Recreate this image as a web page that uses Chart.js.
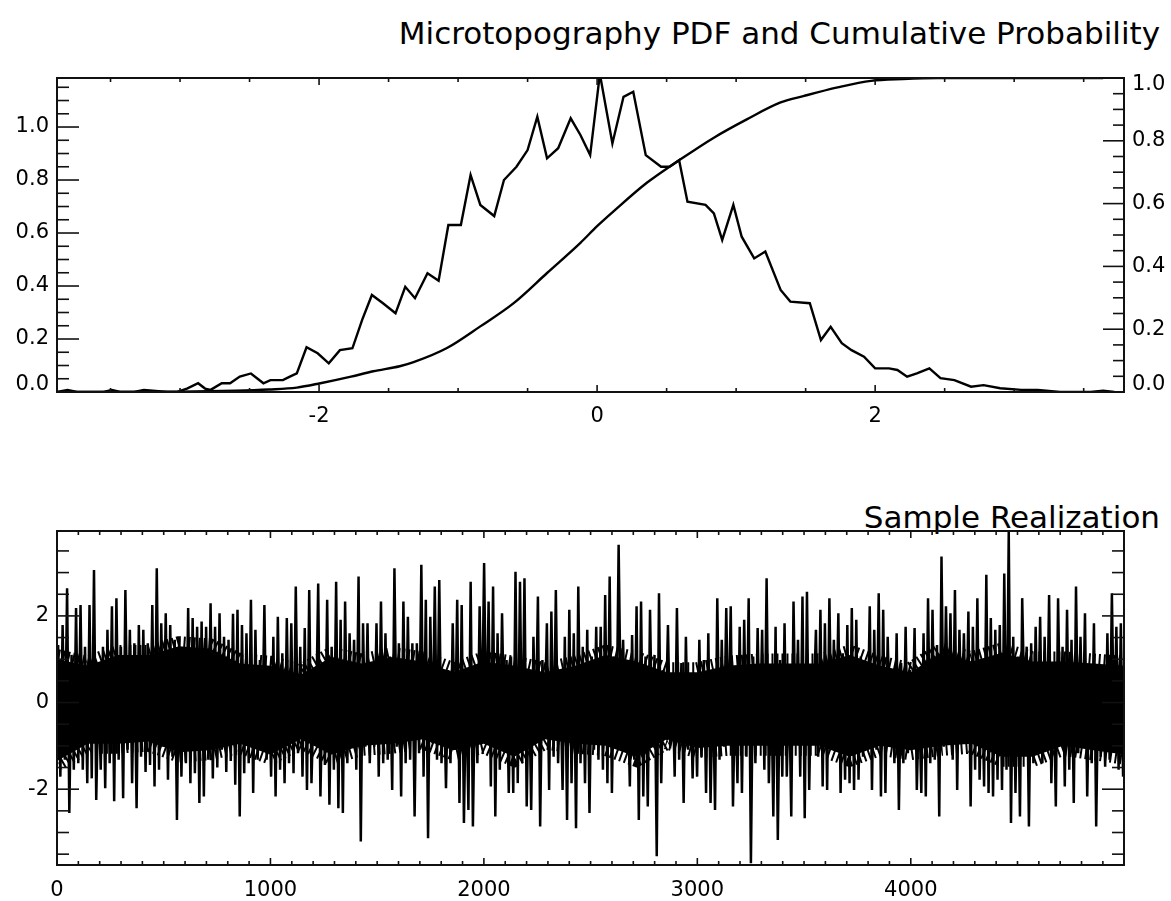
<!DOCTYPE html>
<html>
<head>
<meta charset="utf-8">
<title>Microtopography PDF and Cumulative Probability</title>
<script src="https://cdn.jsdelivr.net/npm/chart.js@4.4.1/dist/chart.umd.min.js"></script>
<style>
	body { margin: 0; background: #fff; }
	#wrap { position: relative; width: 1171px; height: 901px; overflow: hidden; background: #fff; }
	.plotTitle { position: absolute; right: 11px; font-family: "DejaVu Sans", sans-serif; font-size: 31px; line-height: 1; color: #000; white-space: nowrap; }
	canvas { position: absolute; left: 0; }
</style>
</head>
<body>
<div id="wrap">
	<div class="plotTitle" style="top: 18px;">Microtopography PDF and Cumulative Probability</div>
	<canvas id="pdfChart" width="1171" height="460" style="top: 0px;"></canvas>
	<div class="plotTitle" style="top: 502px;">Sample Realization</div>
	<canvas id="sampleChart" width="1171" height="431" style="top: 470px;"></canvas>
</div>
<script>
//PDF (left axis)
var pdfX = [-3.885, -3.81, -3.74, -3.55, -3.49, -3.43, -3.33, -3.26, -3.09, -3.02, -2.95, -2.87, -2.82, -2.78, -2.70, -2.64, -2.57, -2.49, -2.40, -2.35,
			-2.26, -2.21, -2.16, -2.09, -2.01, -1.93, -1.85, -1.76, -1.69, -1.62, -1.54, -1.45, -1.38, -1.31, -1.22, -1.14, -1.07, -0.98, -0.91, -0.84,
			-0.74, -0.67, -0.58, -0.50, -0.43, -0.36, -0.28, -0.19, -0.12, -0.05, 0.02, 0.11, 0.19, 0.26, 0.35, 0.46, 0.52, 0.59, 0.65, 0.78,
			0.84, 0.90, 0.98, 1.04, 1.13, 1.21, 1.32, 1.39, 1.53, 1.61, 1.68, 1.76, 1.83, 1.92, 2.00, 2.10, 2.16, 2.23, 2.30, 2.39,
			2.47, 2.57, 2.69, 2.78, 2.90, 3.05, 3.17, 3.33, 3.41, 3.55, 3.64, 3.72];
var pdfY = [0, 0.008, 0, 0, 0.008, 0, 0, 0.008, 0, 0, 0.013, 0.033, 0.013, 0.008, 0.033, 0.033, 0.058, 0.07, 0.033, 0.045,
			0.045, 0.058, 0.07, 0.169, 0.146, 0.108, 0.158, 0.165, 0.272, 0.366, 0.335, 0.297, 0.397, 0.354, 0.448, 0.42, 0.63, 0.63, 0.819, 0.706,
			0.664, 0.80, 0.85, 0.913, 1.039, 0.882, 0.92, 1.033, 0.97, 0.894, 1.20, 0.938, 1.114, 1.133, 0.894, 0.85, 0.85, 0.875, 0.718, 0.706,
			0.674, 0.574, 0.706, 0.586, 0.504, 0.53, 0.385, 0.341, 0.335, 0.196, 0.246, 0.184, 0.158, 0.133, 0.089, 0.089, 0.083, 0.058, 0.07, 0.089,
			0.052, 0.045, 0.02, 0.026, 0.014, 0.008, 0.008, 0, 0, 0, 0.005, 0];

//cumulative probability (right axis)
var cdfX = [-3.885, -3.0, -2.6, -2.36, -2.16, -1.99, -1.77, -1.61, -1.42, -1.32, -1.08, -0.84, -0.60, -0.36, -0.12, 0, 0.12, 0.36, 0.60, 0.84,
			1.08, 1.32, 1.49, 1.73, 1.97, 2.20, 2.45, 3.0, 3.64];
var cdfY = [0, 0.001, 0.004, 0.008, 0.014, 0.028, 0.049, 0.066, 0.082, 0.095, 0.14, 0.209, 0.283, 0.379, 0.475, 0.528, 0.576, 0.667, 0.741, 0.81,
			0.869, 0.922, 0.943, 0.970, 0.991, 0.997, 1.0, 1.0, 1.0];

//sample realization : highest / lowest value of each narrow column, left to right
var sampleHi = [
	1.33, 1.79, 2.64, 1.10, 2.18, 2.25, 1.29, 2.25, 3.06, 0.37, 1.29, 1.68, 2.22, 2.41, 1.29, 2.60, 1.68, 1.37, 1.79, 1.68,
	1.37, 2.25, 3.10, 1.83, 2.06, 1.79, 1.45, 1.48, 1.22, 2.18, 1.95, 1.75, 1.87, 1.75, 2.29, 1.75, 2.06, 1.52, 1.45, 2.05,
	2.14, 1.79, 1.60, 2.37, 1.68, 0.98, 2.25, 0.52, 1.52, 1.98, 1.14, 1.95, 1.83, 2.68, 1.29, 1.72, 2.60, 0.14, 2.75, 0.60,
	2.37, 1.29, 2.79, 1.91, 2.33, 1.60, 1.45, 2.91, 1.83, 1.83, 0.75, 1.83, 2.33, 1.60, 1.06, 3.10, 1.37, 2.33, 1.98, 1.37,
	1.37, 3.18, 2.37, 1.98, 2.68, 2.83, 0.52, 0.75, 1.83, 2.37, 2.25, 0.56, 2.79, 0.60, 2.22, 3.22, 2.33, 2.68, 1.60, 2.06,
	0.98, 1.06, 3.02, 2.79, 2.87, 0.75, 1.52, 2.45, 0.98, 1.83, 2.10, 2.60, 0.60, 1.52, 2.14, 1.60, 2.68, 1.29, 1.68, 1.06,
	1.75, 1.75, 2.48, 2.91, 1.06, 3.64, 1.45, 0.60, 1.56, 2.22, 2.33, 1.06, 2.14, 1.10, 2.52, 0.75, 1.79, 0.52, 2.18, 0.91,
	1.52, 0.60, 0.45, 1.45, 0.98, 1.60, 0.52, 2.41, 1.45, 2.18, 2.22, 0.41, 1.75, 1.91, 2.41, 1.06, 1.72, 1.68, 2.87, 0.68,
	1.75, 0.98, 1.83, 0.52, 2.33, 1.45, 2.45, 2.56, 0.83, 1.68, 2.14, 1.83, 2.41, 1.45, 2.06, 1.14, 1.79, 2.18, 1.91, 1.06,
	0.37, 2.22, 1.68, 2.52, 2.14, 1.52, 0.75, 1.60, 0.91, 1.75, 0.75, 1.72, 0.14, 1.60, 2.41, 2.14, 1.33, 3.37, 2.22, 2.06,
	2.60, 1.68, 1.60, 2.10, 1.75, 2.41, 0.83, 2.95, 1.95, 1.68, 1.79, 2.98, 3.95, 1.52, 1.06, 2.41, 1.29, 1.37, 1.75, 1.98,
	1.52, 2.48, 0.52, 2.41, 1.29, 2.14, 1.45, 2.68, 1.52, 2.06, 0.83, 1.83, 0.75, 0.68, 1.60, 2.52, 1.75, 1.83
];
var sampleLo = [
	-1.71, -1.32, -2.55, -1.55, -1.40, -1.55, -1.86, -1.75, -2.25, -1.55, -1.98, -1.40, -2.28, -1.32, -2.21, -1.09, -1.86, -2.44, -1.25, -1.60,
	-1.44, -1.94, -1.55, -1.02, -1.78, -1.25, -2.71, -1.71, -1.40, -1.86, -1.63, -2.32, -2.17, -1.32, -1.75, -1.50, -1.09, -1.60, -1.35, -1.90,
	-2.63, -1.63, -1.40, -2.09, -1.32, -0.94, -1.32, -1.71, -2.17, -1.55, -1.86, -1.40, -1.63, -1.17, -1.71, -2.02, -1.86, -0.55, -2.17, -1.44,
	-2.36, -1.55, -2.44, -2.55, -1.40, -0.63, -1.55, -3.21, -1.02, -1.40, -1.02, -1.71, -1.40, -1.32, -2.02, -1.02, -2.17, -1.40, -1.32, -2.63,
	-1.17, -1.71, -3.13, -0.94, -1.32, -1.40, -1.98, -1.40, -1.09, -2.32, -2.78, -2.48, -2.86, -1.40, -0.63, -0.94, -1.94, -2.63, -1.55, -0.75,
	-2.09, -2.09, -1.86, -1.40, -2.40, -2.48, -0.86, -2.86, -0.55, -2.02, -1.25, -1.40, -2.02, -2.71, -1.86, -2.90, -1.40, -1.86, -2.55, -1.09,
	-1.32, -1.55, -1.86, -2.09, -1.02, -0.40, -0.94, -1.94, -1.32, -2.71, -2.17, -2.40, -0.94, -3.55, -1.86, -0.55, -1.02, -1.71, -1.32, -2.32,
	-1.09, -1.75, -1.71, -1.25, -2.09, -2.32, -2.48, -1.32, -1.02, -0.78, -2.40, -1.86, -2.09, -1.25, -3.71, -1.40, -0.94, -1.55, -1.86, -2.63,
	-3.17, -1.71, -1.71, -2.63, -0.94, -1.71, -2.67, -2.02, -0.09, -1.25, -1.94, -2.02, -0.94, -0.71, -2.09, -1.78, -1.86, -2.02, -1.78, -1.25,
	-0.86, -2.02, -1.09, -2.17, -2.09, -0.63, -1.40, -2.48, -1.40, -1.17, -0.71, -2.02, -2.09, -2.17, -1.40, -1.32, -2.63, -1.02, -0.71, -1.32,
	-2.02, -0.55, -0.94, -2.40, -1.55, -1.78, -1.94, -2.09, -2.17, -1.78, -2.02, -1.55, -2.78, -2.09, -2.63, -0.17, -2.86, -1.40, -1.02, -1.40,
	-1.02, -1.86, -2.40, -0.78, -1.94, -1.55, -2.32, -1.17, -0.94, -2.17, -1.40, -2.86, -1.25, -1.48, -1.32, -0.94, -1.55, -1.71
];

//dense black band of the realization (upper / lower edge), left to right
var coreHi = [1.0, 0.85, 1.1, 1.1, 1.3, 1.25, 0.9, 0.85, 0.65, 1.05, 0.9, 1.05, 0.95, 0.7, 0.95, 0.85, 0.7, 0.85,
			1.1, 0.95, 0.7, 0.7, 0.85, 0.9, 0.9, 0.9, 1.1, 0.85, 0.7, 1.15, 0.95, 1.15, 0.95, 0.95, 0.9, 0.85];
var coreLo = [-1.35, -0.95, -0.95, -0.9, -1.15, -1.1, -0.95, -1.2, -0.85, -1.2, -1.0, -0.95, -0.85, -1.1, -0.95, -1.25, -0.85, -0.95,
			-1.0, -1.25, -0.85, -1.05, -1.0, -1.0, -1.0, -1.0, -1.25, -1.0, -1.1, -1.0, -0.95, -1.25, -1.25, -1.0, -1.1, -1.2];

//tick labels
var pdfXTicks = [-2, 0, 2];
var pdfYTicks = [0.0, 0.2, 0.4, 0.6, 0.8, 1.0];
var cdfYTicks = [0.0, 0.2, 0.4, 0.6, 0.8, 1.0];
var sampleXTicks = [0, 1000, 2000, 3000, 4000];
var sampleYTicks = [-2, 0, 2];

var tickFont = { family: 'DejaVu Sans', size: 21 };

//box + inward ticks (IDL style)
var idlAxesPlugin = {
	id: 'idlAxes',
	afterDatasetsDraw: function(chart, args, opts){
		var ctx = chart.ctx;
		var a = chart.chartArea;
		
		ctx.save();
		ctx.strokeStyle = '#111';
		ctx.lineWidth = 2;
		ctx.strokeRect(a.left, a.top, a.right - a.left, a.bottom - a.top);
		
		ctx.lineWidth = 1.6;
		$each(opts.ticks, function(t){
			var scale = chart.scales[t.scale];
			var k0 = Math.ceil(scale.min / t.minor - 1e-6);
			var k1 = Math.floor(scale.max / t.minor + 1e-6);
			for(var k = k0; k <= k1; k++){
				var v = k * t.minor;
				var isMajor = t.major.some(function(m){ return Math.abs(m - v) < t.minor / 10; });
				var len = isMajor ? t.majorLen : t.minorLen;
				var p = scale.getPixelForValue(v);
				$each(t.sides, function(side){
					ctx.beginPath();
					if(side == 'bottom'){
						ctx.moveTo(p, a.bottom); ctx.lineTo(p, a.bottom - len);
					}else if(side == 'top'){
						ctx.moveTo(p, a.top); ctx.lineTo(p, a.top + len);
					}else if(side == 'left'){
						ctx.moveTo(a.left, p); ctx.lineTo(a.left + len, p);
					}else{
						ctx.moveTo(a.right, p); ctx.lineTo(a.right - len, p);
					}
					ctx.stroke();
				});
			}
		});
		
		//end labels sit a little inside the box
		ctx.fillStyle = '#000';
		ctx.font = tickFont.size + 'px "DejaVu Sans"';
		ctx.textBaseline = 'middle';
		$each(opts.endLabels, function(l){
			var y = chart.scales[l.scale].getPixelForValue(l.value) + l.shift;
			if(l.side == 'left'){
				ctx.textAlign = 'right';
				ctx.fillText(l.text, a.left - 8, y);
			}else{
				ctx.textAlign = 'left';
				ctx.fillText(l.text, a.right + 8, y);
			}
		});
		ctx.restore();
	}
};

function $each(arr, fn){
	(arr || []).forEach(fn);
}

function fixedTicks(values){
	return function(scale){
		scale.ticks = values.map(function(v){ return { value: v }; });
	};
}

function toPoints(xs, ys){
	return xs.map(function(x, i){ return { x: x, y: ys[i] }; });
}

//PDF + cumulative probability
function drawPdfChart(){
	
	new Chart(document.getElementById('pdfChart'), {
		type: 'line',
		data: {
			datasets: [{
				label: 'PDF',
				data: toPoints(pdfX, pdfY),
				yAxisID: 'y',
				borderColor: '#000',
				borderWidth: 2.4,
				pointRadius: 0,
				tension: 0
			},{
				label: 'Cumulative Probability',
				data: toPoints(cdfX, cdfY),
				yAxisID: 'y1',
				borderColor: '#000',
				borderWidth: 2.4,
				pointRadius: 0,
				cubicInterpolationMode: 'monotone'
			}]
		},
		options: {
			responsive: false,
			animation: false,
			devicePixelRatio: 1,
			layout: { padding: { top: 78, left: 0, right: 0, bottom: 28 } },
			plugins: {
				legend: { display: false },
				tooltip: { enabled: false },
				idlAxes: {
					ticks: [
						{ scale: 'x', sides: ['bottom', 'top'], major: pdfXTicks, minor: 0.5, majorLen: 7, minorLen: 4 },
						{ scale: 'y', sides: ['left'], major: pdfYTicks, minor: 0.05, majorLen: 22, minorLen: 12 },
						{ scale: 'y1', sides: ['right'], major: cdfYTicks, minor: 0.05, majorLen: 21, minorLen: 11 }
					],
					endLabels: [
						{ scale: 'y', value: 0, text: '0.0', side: 'left', shift: -7 },
						{ scale: 'y1', value: 0, text: '0.0', side: 'right', shift: -7 },
						{ scale: 'y1', value: 1, text: '1.0', side: 'right', shift: 7 }
					]
				}
			},
			scales: {
				x: {
					type: 'linear', min: -3.885, max: 3.79,
					grid: { display: false, drawTicks: false }, border: { display: false },
					afterBuildTicks: fixedTicks(pdfXTicks),
					afterFit: function(s){ s.height = 40; },
					ticks: { color: '#000', font: tickFont, padding: 12, maxRotation: 0, autoSkip: false,
						callback: function(v){ return String(v); } }
				},
				y: {
					position: 'left', min: 0, max: 1.185,
					grid: { display: false, drawTicks: false }, border: { display: false },
					afterBuildTicks: fixedTicks(pdfYTicks),
					afterFit: function(s){ s.width = 57; },
					ticks: { color: '#000', font: tickFont, padding: 8, autoSkip: false,
						callback: function(v){ return v == 0 ? '' : v.toFixed(1); } }
				},
				y1: {
					position: 'right', min: 0, max: 1.0,
					grid: { display: false, drawTicks: false }, border: { display: false },
					afterBuildTicks: fixedTicks(cdfYTicks),
					afterFit: function(s){ s.width = 47; },
					ticks: { color: '#000', font: tickFont, padding: 8, autoSkip: false,
						callback: function(v){ return (v == 0 || v == 1) ? '' : v.toFixed(1); } }
				}
			}
		},
		plugins: [idlAxesPlugin]
	});
}

//sample realization
function drawSampleChart(){
	
	var binW = 5000 / sampleHi.length;
	var spikePts = [];
	for(var i = 0; i < sampleHi.length; i++){
		spikePts.push({ x: (i + 0.25) * binW, y: sampleHi[i] });
		spikePts.push({ x: (i + 0.75) * binW, y: sampleLo[i] });
	}
	
	var coreStep = 4999 / (coreHi.length - 1);
	var coreTop = coreHi.map(function(v, i){ return { x: i * coreStep, y: v }; });
	var coreBottom = coreLo.map(function(v, i){ return { x: i * coreStep, y: v }; });
	
	//band edges are stroked with a thick dashed pen so they break up into short strokes
	new Chart(document.getElementById('sampleChart'), {
		type: 'line',
		data: {
			datasets: [{
				label: 'core top',
				data: coreTop,
				borderColor: '#000',
				borderWidth: 20,
				borderDash: [2, 3],
				borderCapStyle: 'butt',
				pointRadius: 0,
				fill: '+1',
				backgroundColor: '#000'
			},{
				label: 'core bottom',
				data: coreBottom,
				borderColor: '#000',
				borderWidth: 20,
				borderDash: [2, 3],
				borderDashOffset: 1.5,
				borderCapStyle: 'butt',
				pointRadius: 0,
				fill: false
			},{
				label: 'Sample Realization',
				data: spikePts,
				borderColor: '#000',
				borderWidth: 2.5,
				pointRadius: 0,
				tension: 0
			}]
		},
		options: {
			responsive: false,
			animation: false,
			devicePixelRatio: 1,
			layout: { padding: { top: 61, left: 0, right: 47, bottom: 0 } },
			plugins: {
				legend: { display: false },
				tooltip: { enabled: false },
				idlAxes: {
					ticks: [
						{ scale: 'x', sides: ['bottom', 'top'], major: sampleXTicks, minor: 100, majorLen: 7, minorLen: 4 },
						{ scale: 'y', sides: ['left', 'right'], major: sampleYTicks, minor: 0.5, majorLen: 22, minorLen: 12 }
					]
				}
			},
			scales: {
				x: {
					type: 'linear', min: 0, max: 4999,
					grid: { display: false, drawTicks: false }, border: { display: false },
					afterBuildTicks: fixedTicks(sampleXTicks),
					afterFit: function(s){ s.height = 36; },
					ticks: { color: '#000', font: tickFont, padding: 13, maxRotation: 0, autoSkip: false,
						callback: function(v){ return String(v); } }
				},
				y: {
					position: 'left', min: -3.75, max: 3.96,
					grid: { display: false, drawTicks: false }, border: { display: false },
					afterBuildTicks: fixedTicks(sampleYTicks),
					afterFit: function(s){ s.width = 57; },
					ticks: { color: '#000', font: tickFont, padding: 8, autoSkip: false,
						callback: function(v){ return String(v); } }
				}
			}
		},
		plugins: [idlAxesPlugin]
	});
}

drawPdfChart();
drawSampleChart();
</script>
</body>
</html>
